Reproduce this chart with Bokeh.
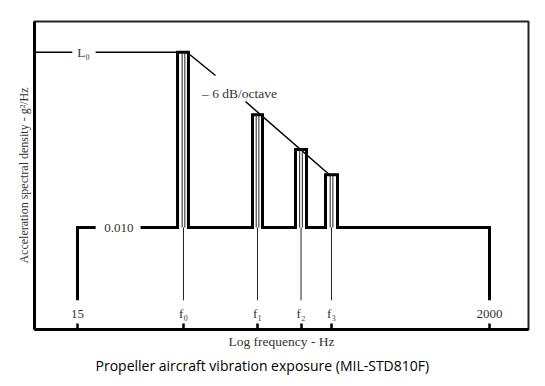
import math
from bokeh.plotting import figure
from bokeh.models import Range1d, FixedTicker, Title, CustomJSTickFormatter
from bokeh.core.properties import value
from bokeh.embed import file_html
from bokeh.resources import INLINE

# ---------------- data (x: frequency, Hz, log scale; y: level in dB re 0.010 g^2/Hz) ----------------
tick_freqs = [15, 52.8, 127.2, 213.2, 306.3, 2000]
tick_labels = ["15", "f\u2080", "f\u2081", "f\u2082", "f\u2083", "2000"]
peak_freqs = [52.8, 127.2, 213.2, 306.3]
peak_lo = [49.2, 119.8, 199.7, 285.2]
peak_hi = [56.0, 134.9, 227.6, 328.9]
peak_db = [21.9, 14.1, 9.75, 6.6]
base_db = 0.0
start_freq = 15
end_freq = 2000
drop_db = -9.1
label_db = -10.75
base_label = "0.010"
base_label_freq = 24.5
base_gap = [18.6, 31.7]
peak_label = "L\u2080"
peak_label_freq = 16.1
peak_gap = [14.1, 18.6]
slope_label = "\u2013 6 dB/octave"
slope_label_pos = [102.7, 16.75]
slope_seg1_x = [56.0, 77.2]
slope_seg1_y = [21.75, 19.0]
slope_seg2_x = [110.3, 299.0]
slope_seg2_y = [15.75, 6.6]
x_lo, x_hi = 9.0, 3177.0
y_lo, y_hi = -12.75, 25.75

SERIF = "Liberation Serif"

p = figure(width=537, height=384, x_axis_type="log",
           x_range=Range1d(x_lo, x_hi), y_range=Range1d(y_lo, y_hi),
           output_backend="svg", toolbar_location=None,
           min_border_left=34, min_border_right=9, min_border_top=21, min_border_bottom=55)
p.xgrid.grid_line_color = None
p.ygrid.grid_line_color = None
p.outline_line_color = "#222222"
p.outline_line_width = 2
p.background_fill_color = "white"
p.border_fill_color = "white"

# x axis
xa = p.xaxis[0]
xa.ticker = FixedTicker(ticks=tick_freqs)
xa.formatter = CustomJSTickFormatter(code="return ''")
xa.major_label_text_font_size = "0px"
xa.major_label_standoff = 0
xa.major_tick_in = 6
xa.major_tick_out = 0
xa.major_tick_line_width = 2.5
xa.major_tick_line_color = "black"
xa.minor_tick_line_color = None
xa.axis_line_width = 3
xa.axis_line_color = "black"
xa.axis_label = "Log frequency - Hz"
xa.axis_label_text_font = SERIF
xa.axis_label_text_font_size = "13.5px"
xa.axis_label_text_font_style = "normal"
xa.axis_label_text_color = "#333333"
xa.axis_label_standoff = 4

# y axis
ya = p.yaxis[0]
ya.ticker = FixedTicker(ticks=[])
ya.major_tick_line_color = None
ya.minor_tick_line_color = None
ya.major_label_text_font_size = "0px"
ya.axis_line_width = 3
ya.axis_line_color = "black"
ya.axis_label = "Acceleration spectral density - g\u00b2/Hz"
ya.axis_label_text_font = SERIF
ya.axis_label_text_font_size = "12px"
ya.axis_label_text_font_style = "normal"
ya.axis_label_text_color = "#333333"
ya.axis_label_standoff = 4

nan = float("nan")

# main spectrum outline
px = [start_freq, start_freq, base_gap[0], nan, base_gap[1]]
py = [drop_db, base_db, base_db, nan, base_db]
for lo, hi, pk in zip(peak_lo, peak_hi, peak_db):
    px += [lo, lo, hi, hi]
    py += [base_db, pk, pk, base_db]
px += [end_freq, end_freq]
py += [base_db, drop_db]
p.line(px, py, line_color="black", line_width=3, line_join="miter")

# L0 level line
p.line([x_lo, peak_gap[0], nan, peak_gap[1], peak_lo[0]],
       [peak_db[0], peak_db[0], nan, peak_db[0], peak_db[0]],
       line_color="black", line_width=1.5)

# -6 dB/octave slope line
p.line(slope_seg1_x, slope_seg1_y, line_color="black", line_width=1.5)
p.line(slope_seg2_x, slope_seg2_y, line_color="black", line_width=1.5)

# thin frequency marker lines
for f, pk in zip(peak_freqs, peak_db):
    p.line([f, f], [drop_db, base_db], line_color="#222222", line_width=1)
    p.line([f / 1.016, f / 1.016], [base_db, pk], line_color="#222222", line_width=1)
    p.line([f * 1.016, f * 1.016], [base_db, pk], line_color="#222222", line_width=1)

# tick labels (inside the frame, above the axis)
p.text(tick_freqs, [label_db] * len(tick_freqs), text=tick_labels,
       text_font=value(SERIF), text_font_size="13px", text_color="#333333",
       text_align="center", text_baseline="middle")

# annotations
p.text([base_label_freq], [base_db], text=[base_label], text_font=value(SERIF),
       text_font_size="13px", text_color="#333333", text_align="center", text_baseline="middle")
p.text([peak_label_freq], [peak_db[0]], text=[peak_label], text_font=value(SERIF),
       text_font_size="13px", text_color="#333333", text_align="center", text_baseline="middle")
p.text([slope_label_pos[0]], [slope_label_pos[1]], text=[slope_label], text_font=value(SERIF),
       text_font_size="13.5px", text_color="#333333", text_align="center", text_baseline="middle")

caption = Title(text="Propeller aircraft vibration exposure (MIL-STD810F)", align="left", offset=61,
                standoff=5, text_font="Open Sans", text_font_size="14px", text_font_style="normal",
                text_color="black")
p.add_layout(caption, "below")

open("out.html", "w").write(file_html(p, INLINE))
